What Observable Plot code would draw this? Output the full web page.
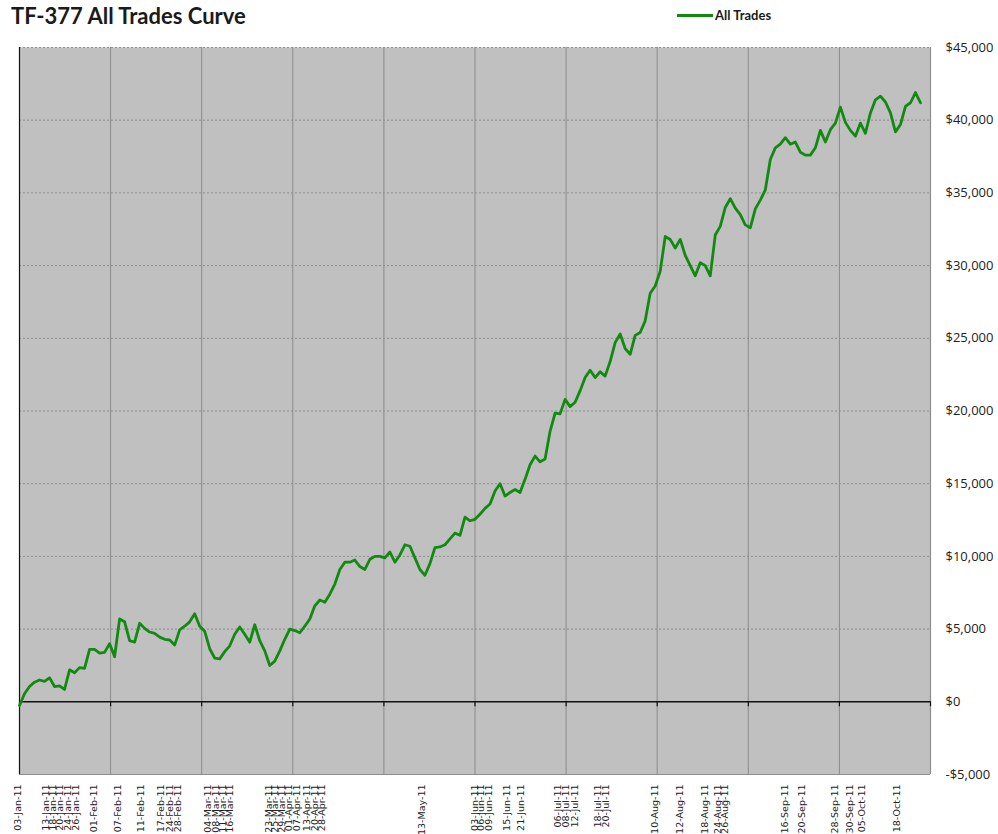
<!DOCTYPE html>
<html>
<head>
<meta charset="utf-8">
<script src="https://cdn.jsdelivr.net/npm/d3@7"></script>
<script src="https://cdn.jsdelivr.net/npm/@observablehq/plot@0.6"></script>
<style>
  body { margin: 0; background: #ffffff; }
  #wrap { position: relative; width: 998px; height: 834px; overflow: hidden; background: #fff; }
  #chart { position: absolute; left: 0; top: 0; }
  #title { position: absolute; left: 11px; top: 2px; font: bold 22px Lato, "Open Sans", sans-serif; color: #1a1a1a; white-space: nowrap; z-index: 2; }
  #legend { position: absolute; left: 677px; top: 7px; font: bold 13px Lato, sans-serif; color: #1a1a1a; display: flex; align-items: center; white-space: nowrap; z-index: 2; }
  #legend .sw { display: inline-block; width: 36px; height: 3px; background: #128a12; margin-right: 2px; }
</style>
</head>
<body>
<div id="wrap">
  <div id="chart"></div>
  <div id="title">TF-377 All Trades Curve</div>
  <div id="legend"><span class="sw"></span><span>All Trades</span></div>
</div>
<script>
// Cumulative equity (USD) sampled along the trade sequence
const equity = [
  -250, 550, 1050, 1350, 1500, 1400, 1650, 1050, 1100, 850,
  2200, 2000, 2350, 2300, 3600, 3600, 3350, 3400, 4000, 3100,
  5700, 5500, 4200, 4100, 5400, 5050, 4800, 4700, 4450, 4300,
  4250, 3900, 4950, 5200, 5500, 6050, 5200, 4850, 3650, 3000,
  2950, 3450, 3850, 4650, 5150, 4650, 4100, 5300, 4200, 3500,
  2500, 2800, 3500, 4300, 5000, 4900, 4750, 5200, 5700, 6600,
  7000, 6850, 7400, 8100, 9100, 9600, 9600, 9750, 9300, 9100,
  9800, 10000, 10000, 9900, 10300, 9600, 10100, 10800, 10700, 9900,
  9100, 8700, 9500, 10600, 10650, 10800, 11200, 11600, 11450, 12700,
  12450, 12550, 12900, 13300, 13600, 14500, 15000, 14150, 14400, 14600,
  14400, 15300, 16300, 16900, 16500, 16700, 18600, 19850, 19800, 20800,
  20300, 20600, 21400, 22300, 22800, 22300, 22700, 22400, 23400, 24700,
  25300, 24300, 23900, 25200, 25400, 26200, 28100, 28600, 29600, 32000,
  31800, 31200, 31800, 30700, 30000, 29300, 30200, 30000, 29300, 32100,
  32700, 34000, 34600, 33950, 33500, 32800, 32600, 33900, 34500, 35200,
  37300, 38100, 38350, 38800, 38350, 38500, 37800, 37600, 37600, 38100,
  39300, 38500, 39350, 39800, 40900, 39850, 39300, 38900, 39800, 39100,
  40500, 41400, 41650, 41250, 40500, 39200, 39700, 40950, 41200, 41900,
  41200
];

// Category axis: total category slots and labelled trade dates
const categoryCount = 182;
const labelDates = [
  "03-Jan-11", "13-Jan-11", "18-Jan-11", "20-Jan-11", "24-Jan-11", "26-Jan-11", "01-Feb-11",
  "07-Feb-11", "11-Feb-11", "17-Feb-11", "24-Feb-11", "28-Feb-11",
  "04-Mar-11", "08-Mar-11", "11-Mar-11", "16-Mar-11", "23-Mar-11", "25-Mar-11", "29-Mar-11",
  "01-Apr-11", "07-Apr-11", "13-Apr-11", "20-Apr-11", "28-Apr-11",
  "13-May-11", "03-Jun-11", "06-Jun-11", "09-Jun-11", "15-Jun-11", "21-Jun-11",
  "06-Jul-11", "08-Jul-11", "12-Jul-11", "18-Jul-11", "20-Jul-11",
  "10-Aug-11", "12-Aug-11", "18-Aug-11", "24-Aug-11", "26-Aug-11",
  "16-Sep-11", "20-Sep-11", "28-Sep-11", "30-Sep-11", "05-Oct-11", "18-Oct-11"
];
const labelTrade = [
  0.2, 5.8, 7.2, 8.6, 10.2, 11.8, 15.4,
  20.2, 24.8, 28.8, 30.6, 32.2,
  38.2, 39.8, 41.2, 42.6, 50.5, 51.7, 53.1,
  54.5, 56.1, 58.1, 59.7, 61.1,
  81.1, 91.5, 92.7, 94.3, 97.9, 100.7,
  108.1, 109.7, 111.5, 116.1, 117.7,
  127.5, 132.5, 137.5, 140.1, 141.5,
  153.6, 157.0, 163.6, 166.6, 169.0, 176.0
];
const yTicks = [-5000, 0, 5000, 10000, 15000, 20000, 25000, 30000, 35000, 40000, 45000];

const series = equity.map((v, i) => ({trade: i, value: v}));
const labels = labelDates.map((d, i) => ({date: d, trade: labelTrade[i]}));
const vGrid = d3.range(1, 10).map(k => k * categoryCount / 10);
const vTicks = d3.range(0, 11).map(k => k * categoryCount / 10);
const fmt = d3.format(",");
const money = d => (d < 0 ? "-$" : "$") + fmt(Math.abs(d));

const chart = Plot.plot({
  width: 998,
  height: 834,
  marginTop: 47,
  marginBottom: 60,
  marginLeft: 19,
  marginRight: 68,
  style: {fontFamily: "'Open Sans', sans-serif", background: "transparent"},
  x: {domain: [0, categoryCount], axis: null},
  y: {domain: [-5000, 45000], axis: null},
  marks: [
    Plot.frame({fill: "#c0c0c0", stroke: null}),
    Plot.ruleX(vGrid, {stroke: "#8a8a8a", strokeWidth: 1}),
    Plot.ruleY(yTicks.filter(d => d > 0), {stroke: "#8c8c8c", strokeDasharray: "2,2", strokeWidth: 1}),
    Plot.ruleY([-5000], {stroke: "#8c8c8c", strokeWidth: 1.2}),
    Plot.ruleX([categoryCount], {stroke: "#8c8c8c", strokeWidth: 1.2}),
    Plot.ruleX([0], {stroke: "#111", strokeWidth: 1.2}),
    Plot.ruleY([0], {stroke: "#111", strokeWidth: 1.5}),
    Plot.ruleX(vTicks, {y1: 0, y2: 0, insetBottom: -5, stroke: "#111", strokeWidth: 1.2}),
    Plot.line(series, {x: "trade", y: "value", stroke: "#128a12", strokeWidth: 2.8, strokeLinejoin: "round"}),
    Plot.axisY(yTicks, {anchor: "right", label: null, tickSize: 0, tickPadding: 15, tickFormat: money, fontSize: 13, fill: "#222", textAnchor: "start"}),
    Plot.text(labels, {x: "trade", text: "date", frameAnchor: "bottom", rotate: -90, textAnchor: "end", dy: 10, fontSize: 9.5, fontFamily: "'DejaVu Sans', sans-serif", fill: "#222"})
  ]
});
document.getElementById("chart").appendChild(chart);
</script>
</body>
</html>
